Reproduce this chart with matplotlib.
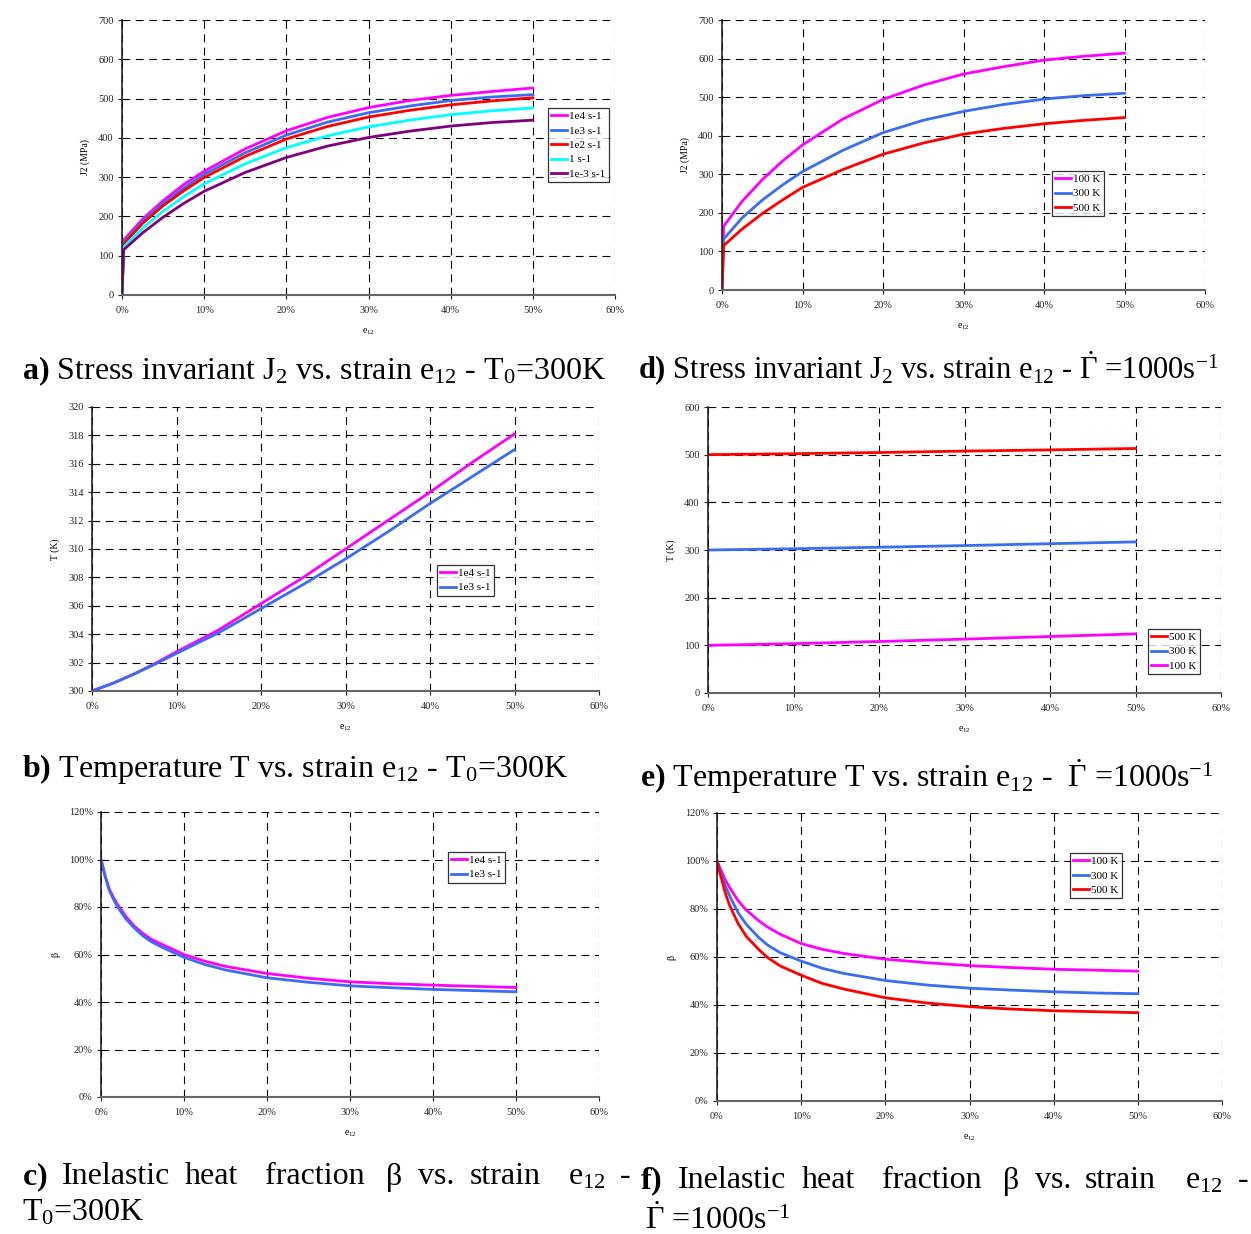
import matplotlib
matplotlib.use("Agg")
import matplotlib.pyplot as plt
from matplotlib.ticker import PercentFormatter, MultipleLocator

plt.rcParams['font.family'] = ['Liberation Serif', 'DejaVu Serif']
plt.rcParams['mathtext.fontset'] = 'custom'
plt.rcParams['mathtext.rm'] = 'Liberation Serif'
plt.rcParams['mathtext.it'] = 'Liberation Serif:italic'
plt.rcParams['mathtext.bf'] = 'Liberation Serif:bold'

# ---- data ----
# a) J2 vs strain, T0 = 300 K, several strain rates
strain_a = [0, 0.002, 0.025, 0.05, 0.075, 0.10, 0.15, 0.20, 0.25, 0.30, 0.35, 0.40, 0.45, 0.50]
j2_1e4 = [0, 140, 193, 240, 281, 315, 372, 418, 452, 477, 495, 508, 518, 527]
j2_1e3 = [0, 135, 187, 233, 272, 307, 362, 407, 440, 464, 481, 495, 504, 510]
j2_1e2 = [0, 130, 182, 227, 265, 299, 353, 397, 429, 453, 470, 484, 494, 502]
j2_1 = [0, 122, 170, 213, 250, 283, 334, 375, 405, 428, 445, 459, 469, 476]
j2_1em3 = [0, 115, 158, 198, 233, 264, 312, 350, 379, 401, 417, 430, 439, 445]
labels_a = ["1e4 s-1", "1e3 s-1", "1e2 s-1", "1 s-1", "1e-3 s-1"]

# d) J2 vs strain, rate 1000 s-1, several T0
j2_100K = [0, 165, 230, 286, 334, 376, 443, 494, 531, 560, 579, 596, 606, 614]
j2_300K = [0, 132, 187, 233, 272, 307, 362, 408, 440, 463, 481, 495, 504, 510]
j2_500K = [0, 115, 158, 198, 233, 266, 312, 352, 381, 404, 419, 431, 440, 447]
labels_d = ["100 K", "300 K", "500 K"]

# b) temperature vs strain, T0 = 300 K
strain_b = [0, 0.025, 0.05, 0.075, 0.10, 0.15, 0.20, 0.25, 0.30, 0.35, 0.40, 0.45, 0.50]
t_1e4 = [300, 300.55, 301.2, 301.95, 302.76, 304.3, 306.15, 308.0, 310.0, 312.0, 314.0, 316.1, 318.1]
t_1e3 = [300, 300.55, 301.2, 301.9, 302.65, 304.1, 305.8, 307.5, 309.3, 311.2, 313.2, 315.1, 317.0]
labels_b = ["1e4 s-1", "1e3 s-1"]

# e) temperature vs strain, rate 1000 s-1
strain_e = [0, 0.10, 0.20, 0.30, 0.40, 0.50]
t_500K = [500, 502, 504.5, 507.5, 510, 513]
t_300K = [300, 302.6, 305.8, 309.3, 313.2, 317]
t_100K = [100, 103.5, 108, 113, 118.5, 124]
labels_e = ["500 K", "300 K", "100 K"]

# c) beta vs strain, T0 = 300 K
strain_c = [0, 0.0025, 0.005, 0.01, 0.015, 0.02, 0.03, 0.04, 0.05, 0.06, 0.075, 0.10,
            0.125, 0.15, 0.20, 0.25, 0.30, 0.35, 0.40, 0.45, 0.50]
beta_1e4 = [1.0, 0.965, 0.93, 0.875, 0.84, 0.81, 0.76, 0.72, 0.69, 0.665, 0.64, 0.60,
            0.572, 0.55, 0.52, 0.50, 0.485, 0.477, 0.471, 0.466, 0.461]
beta_1e3 = [1.0, 0.965, 0.93, 0.87, 0.833, 0.80, 0.75, 0.712, 0.68, 0.655, 0.628, 0.588,
            0.558, 0.535, 0.502, 0.483, 0.468, 0.46, 0.453, 0.448, 0.443]

# f) beta vs strain, rate 1000 s-1
strain_f = [0, 0.005, 0.01, 0.015, 0.025, 0.035, 0.05, 0.06, 0.075, 0.10, 0.125, 0.15,
            0.20, 0.25, 0.30, 0.35, 0.40, 0.45, 0.50]
beta_100K = [1.0, 0.96, 0.92, 0.89, 0.835, 0.795, 0.75, 0.725, 0.695, 0.656, 0.632, 0.615,
             0.591, 0.576, 0.564, 0.556, 0.549, 0.545, 0.541]
beta_300K = [1.0, 0.945, 0.895, 0.855, 0.785, 0.735, 0.68, 0.65, 0.618, 0.583, 0.553, 0.532,
             0.502, 0.483, 0.47, 0.462, 0.455, 0.45, 0.447]
beta_500K = [1.0, 0.93, 0.865, 0.815, 0.74, 0.685, 0.63, 0.598, 0.563, 0.524, 0.49, 0.467,
             0.43, 0.408, 0.393, 0.383, 0.376, 0.372, 0.368]

MAG, BLUE, RED, CYAN, PURP = "#ff00ff", "#3a6cf4", "#ff0000", "#00ffff", "#800080"

W, H = 1251, 1234
fig = plt.figure(figsize=(W / 100, H / 100), dpi=100)


def make_axes(l, r, t, b):
    return fig.add_axes([l / W, 1 - b / H, (r - l) / W, (b - t) / H])


def style(ax, ylim, ystep, ylabel, pct_y=False, leg_anchor=None):
    ax.set_xlim(0, 0.6)
    ax.set_ylim(*ylim)
    ax.xaxis.set_major_locator(MultipleLocator(0.1))
    ax.xaxis.set_major_formatter(PercentFormatter(xmax=1, decimals=0))
    ax.yaxis.set_major_locator(MultipleLocator(ystep))
    if pct_y:
        ax.yaxis.set_major_formatter(PercentFormatter(xmax=1, decimals=0))
    ax.grid(True, color="black", linestyle=(0, (7, 5)), linewidth=0.8)
    ax.set_axisbelow(True)
    for s in ("top", "right"):
        ax.spines[s].set_visible(False)
    ax.spines["left"].set_color("#222222")
    ax.spines["bottom"].set_color("#666666")
    ax.spines["left"].set_linewidth(1.2)
    ax.spines["bottom"].set_linewidth(1.5)
    ax.tick_params(labelsize=7.5, length=3, width=0.8, colors="#222222")
    ax.tick_params(axis="x", pad=5)
    ax.tick_params(axis="y", pad=3)
    ax.set_ylabel(ylabel, fontsize=7, labelpad=6)
    ax.set_xlabel("e$_{12}$", fontsize=7, labelpad=8)
    leg = ax.legend(loc="upper left", bbox_to_anchor=leg_anchor, fontsize=8,
                    frameon=True, fancybox=False, edgecolor="black",
                    handlelength=1.4, handletextpad=0.2, borderpad=0.3,
                    labelspacing=0.42, borderaxespad=0)
    leg.get_frame().set_linewidth(0.9)


lw = 2.0

# a)
ax = make_axes(122, 615, 20, 295)
for y, c, lab in zip([j2_1e4, j2_1e3, j2_1e2, j2_1, j2_1em3],
                     [MAG, BLUE, RED, CYAN, PURP], labels_a):
    ax.plot(strain_a, y, color=c, lw=lw, label=lab)
style(ax, (0, 700), 100, "J2 (MPa)", leg_anchor=(0.864, 0.68))

# d)
ax = make_axes(722, 1205, 20, 290)
for y, c, lab in zip([j2_100K, j2_300K, j2_500K], [MAG, BLUE, RED], labels_d):
    ax.plot(strain_a, y, color=c, lw=lw, label=lab)
style(ax, (0, 700), 100, "J2 (MPa)", leg_anchor=(0.683, 0.441))

# b)
ax = make_axes(92, 599, 407, 691)
for y, c, lab in zip([t_1e4, t_1e3], [MAG, BLUE], labels_b):
    ax.plot(strain_b, y, color=c, lw=lw, label=lab)
style(ax, (300, 320), 2, "T (K)", leg_anchor=(0.68, 0.444))

# e)
ax = make_axes(708, 1221, 407, 693)
for y, c, lab in zip([t_500K, t_300K, t_100K], [RED, BLUE, MAG], labels_e):
    ax.plot(strain_e, y, color=c, lw=lw, label=lab)
style(ax, (0, 600), 100, "T (K)", leg_anchor=(0.858, 0.224))

# c)
ax = make_axes(101, 599, 812, 1097)
for y, c, lab in zip([beta_1e4, beta_1e3], [MAG, BLUE], labels_b):
    ax.plot(strain_c, y, color=c, lw=lw, label=lab)
style(ax, (0, 1.2), 0.2, "β", pct_y=True, leg_anchor=(0.697, 0.86))

# f)
ax = make_axes(717, 1222, 813, 1101)
for y, c, lab in zip([beta_100K, beta_300K, beta_500K], [MAG, BLUE, RED], labels_d):
    ax.plot(strain_f, y, color=c, lw=lw, label=lab)
style(ax, (0, 1.2), 0.2, "β", pct_y=True, leg_anchor=(0.699, 0.861))

# ---- captions ----
CAP = 23
def cap(x, y, s, size=CAP):
    fig.text(x / W, 1 - y / H, s, fontsize=size, ha="left", va="center")

cap(22, 371, r"$\mathbf{a)}$ Stress invariant J$_2$ vs. strain e$_{12}$ - T$_0$=300K")
cap(638, 369, r"$\mathbf{d)}$ Stress invariant J$_2$ vs. strain e$_{12}$ - $\dot{\Gamma}$ =1000s$^{-1}$", 22)
cap(22, 769, r"$\mathbf{b)}$ Temperature T vs. strain e$_{12}$ - T$_0$=300K")
cap(640, 777, r"$\mathbf{e)}$ Temperature T vs. strain e$_{12}$ -  $\dot{\Gamma}$ =1000s$^{-1}$")

words_c = [(22, r"$\mathbf{c)}$"), (62, "Inelastic"), (185, "heat"), (265, "fraction"),
           (386, "β"), (418, "vs."), (470, "strain"), (568, r"e$_{12}$"), (620, "-")]
for x, s in words_c:
    cap(x, 1177, s)
cap(22, 1213, r"T$_0$=300K")
words_f = [(640, r"$\mathbf{f)}$"), (678, "Inelastic"), (802, "heat"), (882, "fraction"),
           (1003, "β"), (1035, "vs."), (1085, "strain"), (1185, r"e$_{12}$"), (1238, "-")]
for x, s in words_f:
    cap(x, 1181, s)
cap(645, 1220, r"$\dot{\Gamma}$ =1000s$^{-1}$")

fig.savefig("out.png", dpi=100)
